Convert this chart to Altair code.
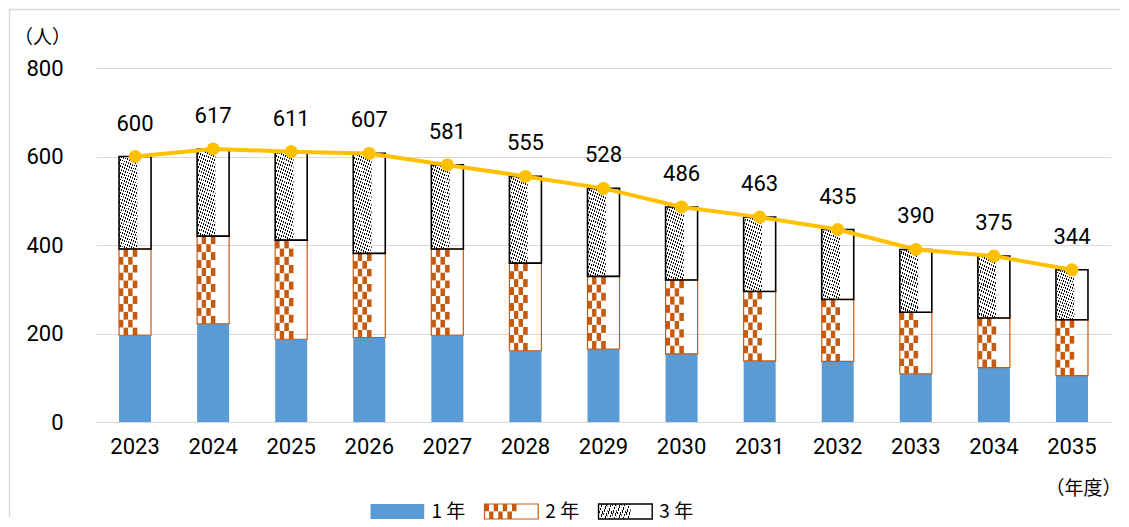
import altair as alt
import pandas as pd

# ---- data ----
years = ["2023", "2024", "2025", "2026", "2027", "2028", "2029",
         "2030", "2031", "2032", "2033", "2034", "2035"]
grade1 = [196, 222, 187, 191, 196, 161, 165, 154, 138, 137, 109, 123, 105]
grade2 = [195, 198, 224, 190, 195, 198, 164, 167, 157, 140, 139, 112, 126]
grade3 = [209, 197, 200, 226, 190, 196, 199, 165, 168, 158, 142, 140, 113]
totals = [600, 617, 611, 607, 581, 555, 528, 486, 463, 435, 390, 375, 344]
legend_items = ["1 年", "2 年", "3 年"]
legend_keys = ["g1", "g2", "g3"]
legend_slots = ["s0", "s1"] + legend_items + ["s5", "s6", "s7", "s8"]
y_ticks = [0, 200, 400, 600, 800]

BLUE = "#5B9BD5"
ORANGE = "#C55A11"
GOLD = "#FFC000"
GRID = "#D9D9D9"
NUM_FONT = "Roboto, Liberation Sans, sans-serif"
JP_FONT = "Noto Sans CJK JP, sans-serif"

df = pd.DataFrame({"year": years, "g1": grade1, "g2": grade2,
                   "g3": grade3, "total": totals})
legend_df = pd.DataFrame({"item": legend_items, "key": legend_keys})
one_row = pd.DataFrame({"k": [0]})

NO_VIEW = alt.ViewBackground(stroke="transparent", strokeWidth=0, strokeOpacity=0)


def hatch(periods, frac=0.27):
    stops = []
    p = 1.0 / periods
    for k in range(periods):
        a = round(k * p, 4)
        b = round(a + p * frac, 4)
        c = round((k + 1) * p, 4)
        stops += [{"offset": a, "color": "#000000"},
                  {"offset": b, "color": "#000000"},
                  {"offset": b, "color": "#FFFFFF"},
                  {"offset": c, "color": "#FFFFFF"}]
    return {"gradient": "linear", "x1": 0, "y1": 0, "x2": 1, "y2": 1,
            "stops": stops}


xscale = alt.Scale(domain=years, paddingInner=0.59, paddingOuter=0.295)
xaxis = alt.Axis(title="（年度）", labelAngle=0, ticks=False, domain=False,
                 grid=False, labelFont=NUM_FONT, labelFontSize=22,
                 labelColor="#000000", labelPadding=14,
                 titleFont=JP_FONT, titleFontSize=19,
                 titleFontWeight="normal", titleColor="#000000",
                 titleX=1025, titleY=66, titleAlign="right",
                 titleBaseline="middle")
yscale = alt.Scale(domain=[0, 800], nice=False)
yaxis = alt.Axis(title="（人）", values=y_ticks, grid=True, gridColor=GRID,
                 gridWidth=1, ticks=False, domain=False,
                 labelFont=NUM_FONT, labelFontSize=22, labelColor="#000000",
                 labelPadding=33, titleAngle=0, titleX=-54, titleY=-31,
                 titleAlign="center", titleBaseline="middle",
                 titleFont=JP_FONT, titleFontSize=19,
                 titleFontWeight="normal", titleColor="#000000")


def X():
    return alt.X("year:N", scale=xscale, axis=xaxis, sort=years)


def Y(f):
    return alt.Y(f, scale=yscale, axis=yaxis)


def XO():
    return alt.XOffset("cols:O", scale=alt.Scale(paddingInner=0, paddingOuter=0))


# frame (decoration)
frame_top = alt.Chart(one_row).mark_rule(color=GRID, strokeWidth=1.5).encode(
    x=alt.value(-86.5), x2=alt.value(1024), y=alt.value(-58.5))
frame_left = alt.Chart(one_row).mark_rule(color=GRID, strokeWidth=1.5).encode(
    x=alt.value(-86.5), y=alt.value(-58.5), y2=alt.value(449))

blue = alt.Chart(df).mark_bar(color=BLUE).encode(x=X(), y=Y("g1:Q"))

checker = (
    alt.Chart(df)
    .transform_calculate(nr="max(1, round(datum.g2 / 18))")
    .transform_calculate(rows="sequence(0, datum.nr)")
    .transform_flatten(["rows"])
    .transform_calculate(lo="datum.g1 + datum.rows * datum.g2 / datum.nr")
    .transform_calculate(hi="datum.g1 + (datum.rows + 1) * datum.g2 / datum.nr")
    .transform_calculate(cols="[0, 1, 2, 3]")
    .transform_flatten(["cols"])
    .transform_calculate(par="(datum.rows + datum.cols) % 2")
    .mark_bar()
    .encode(x=X(), xOffset=XO(), y=Y("lo:Q"), y2="hi:Q",
            color=alt.condition("datum.par == 1", alt.value(ORANGE),
                                alt.value("#FFFFFF")))
)

hatch_cells = (
    alt.Chart(df)
    .transform_calculate(nr="max(1, round(datum.g3 / 32))")
    .transform_calculate(rows="sequence(0, datum.nr)")
    .transform_flatten(["rows"])
    .transform_calculate(lo="datum.g1 + datum.g2 + datum.rows * datum.g3 / datum.nr")
    .transform_calculate(hi="datum.g1 + datum.g2 + (datum.rows + 1) * datum.g3 / datum.nr")
    .transform_calculate(cols="[0, 1, 2, 3]")
    .transform_flatten(["cols"])
    .mark_bar(fill=hatch(4))
    .encode(x=X(), xOffset=XO(), y=Y("lo:Q"), y2="hi:Q")
)

orange_out = (
    alt.Chart(df)
    .transform_calculate(lo="datum.g1", hi="datum.g1 + datum.g2")
    .mark_bar(fill="transparent", stroke=ORANGE, strokeWidth=1.2)
    .encode(x=X(), y=Y("lo:Q"), y2="hi:Q")
)
hatch_out = (
    alt.Chart(df)
    .transform_calculate(lo="datum.g1 + datum.g2", hi="datum.total")
    .mark_bar(fill="transparent", stroke="#000000", strokeWidth=1.6)
    .encode(x=X(), y=Y("lo:Q"), y2="hi:Q")
)

line = alt.Chart(df).mark_line(color=GOLD, strokeWidth=4).encode(
    x=X(), y=Y("total:Q"))
pts = alt.Chart(df).mark_circle(color=GOLD, size=170, opacity=1).encode(
    x=X(), y=Y("total:Q"))
labels = alt.Chart(df).mark_text(font=NUM_FONT, fontSize=22, dy=-33,
                                 baseline="middle", color="#000000").encode(
    x=X(), y=Y("total:Q"), text="total:Q")

main = alt.layer(frame_top, frame_left, blue, checker, hatch_cells,
                 orange_out, hatch_out, line, pts, labels).properties(
    width=1015, height=354, view=NO_VIEW)

# ---- legend drawn with its own band scale ----
lx = alt.Scale(domain=legend_slots, paddingInner=0.529, paddingOuter=0.2165,
               align=0.943)


def LX():
    return alt.X("item:N", scale=lx, axis=None)


def LXO():
    return alt.XOffset("cols:O", scale=alt.Scale(paddingInner=0, paddingOuter=0))


leg_blue = alt.Chart(legend_df).transform_filter("datum.key == 'g1'").mark_rect(
    color=BLUE).encode(x=LX())
leg_checker = (
    alt.Chart(legend_df)
    .transform_filter("datum.key == 'g2'")
    .transform_calculate(rows="[0, 1]")
    .transform_flatten(["rows"])
    .transform_calculate(cols="sequence(0, 7)")
    .transform_flatten(["cols"])
    .transform_calculate(par="(datum.rows + datum.cols) % 2")
    .mark_rect()
    .encode(x=LX(), xOffset=LXO(),
            y=alt.Y("rows:O", axis=None,
                    scale=alt.Scale(paddingInner=0, paddingOuter=0)),
            color=alt.condition("datum.par == 0", alt.value(ORANGE),
                                alt.value("#FFFFFF")))
)
leg_hatch = (
    alt.Chart(legend_df)
    .transform_filter("datum.key == 'g3'")
    .transform_calculate(cols="sequence(0, 7)")
    .transform_flatten(["cols"])
    .mark_rect(fill=hatch(3))
    .encode(x=LX(), xOffset=LXO())
)
leg_orange_out = alt.Chart(legend_df).transform_filter(
    "datum.key == 'g2'").mark_rect(fill="transparent", stroke=ORANGE,
                                   strokeWidth=1.2).encode(x=LX())
leg_hatch_out = alt.Chart(legend_df).transform_filter(
    "datum.key == 'g3'").mark_rect(fill="transparent", stroke="#000000",
                                   strokeWidth=1.4).encode(x=LX())
leg_text = alt.Chart(legend_df).mark_text(
    align="left", baseline="middle", dx=34, font=JP_FONT, fontSize=19,
    color="#000000").encode(x=LX(), text="item:N")

legend = alt.layer(leg_blue, leg_checker, leg_hatch, leg_orange_out,
                   leg_hatch_out, leg_text).properties(
    width=1015, height=15, view=NO_VIEW)

chart = (
    alt.vconcat(main, legend, spacing=82, bounds="flush")
    .properties(padding=0)
    .configure_view(stroke="transparent", strokeWidth=0, strokeOpacity=0)
    .configure(font=JP_FONT)
)

chart.save("out.html", embed_options={"renderer": "svg", "actions": False})
